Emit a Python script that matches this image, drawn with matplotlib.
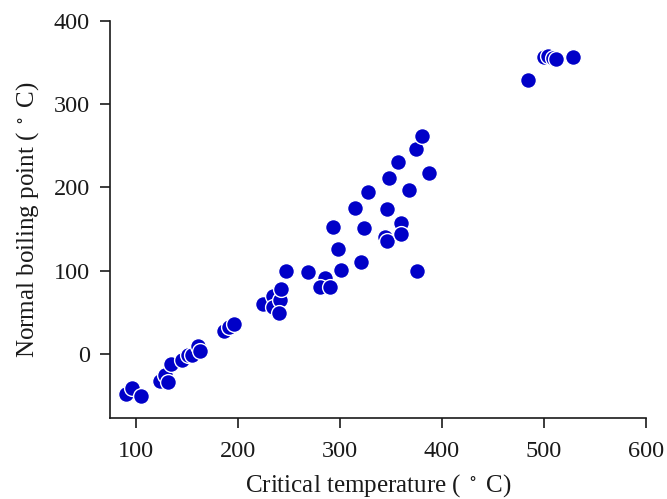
import matplotlib
matplotlib.use("Agg")
import matplotlib.pyplot as plt

critical_temp = [90.8, 96.7, 105.6, 123.7, 128.6, 131.9, 134.2, 145.7, 151.6, 154.9,
                 160.5, 163.2, 186.9, 191.1, 196.7, 225.1, 234.6, 234.0, 241.5, 242.8,
                 240.6, 247.4, 268.5, 285.9, 280.6, 290.8, 300.7, 298.1, 292.8, 320.4,
                 323.4, 315.2, 328.0, 346.5, 344.5, 345.8, 359.6, 359.6, 348.0, 356.6,
                 367.8, 374.7, 380.4, 375.4, 387.3, 484.7, 500.5, 503.8, 508.7, 512.0,
                 528.4]
boiling_point = [-48.3, -41.5, -50.7, -32.8, -24.8, -33.5, -12.4, -6.8, -1.6, -0.8,
                 9.5, 3.1, 27.0, 32.3, 35.9, 60.2, 69.0, 56.2, 64.1, 78.1,
                 49.0, 100.0, 98.0, 91.3, 80.0, 80.0, 100.8, 126.0, 152.0, 110.0,
                 150.7, 175.4, 194.5, 173.8, 140.0, 136.0, 157.0, 144.0, 211.0, 230.4,
                 196.5, 245.6, 261.5, 100.0, 216.7, 329.3, 357.0, 358.0, 355.0, 354.4,
                 357.0]

x_ticks = [100, 200, 300, 400, 500, 600]
y_ticks = [0, 100, 200, 300, 400]

plt.rcParams['font.family'] = ['Liberation Serif', 'DejaVu Serif']
plt.rcParams['mathtext.fontset'] = 'stix'

fig = plt.figure(figsize=(6.67, 4.99), dpi=100)
ax = fig.add_axes([0.165, 0.1617, 0.8035, 0.7968])
ax.scatter(critical_temp, boiling_point, s=130, color='#0000c8',
           edgecolors='white', linewidths=1.0, zorder=3)

ax.set_xlim(74.8, 600)
ax.set_ylim(-77.4, 400)
ax.set_xticks(x_ticks)
ax.set_yticks(y_ticks)
for side in ['top', 'right']:
    ax.spines[side].set_visible(False)
for side in ['left', 'bottom']:
    ax.spines[side].set_linewidth(1.2)
    ax.spines[side].set_color('#1a1a1a')
ax.tick_params(axis='both', labelsize=17.5, length=7.5, width=1.2, color='#1a1a1a',
               labelcolor='#1a1a1a')
ax.tick_params(axis='x', pad=9)
ax.tick_params(axis='y', pad=7)
ax.set_xlabel('Critical temperature ( $^\\circ$ C)', fontsize=18, color='#1a1a1a',
              labelpad=7)
ax.set_ylabel('Normal boiling point ( $^\\circ$ C)', fontsize=18, color='#1a1a1a',
              labelpad=9)

fig.savefig('out.png', dpi=100)
